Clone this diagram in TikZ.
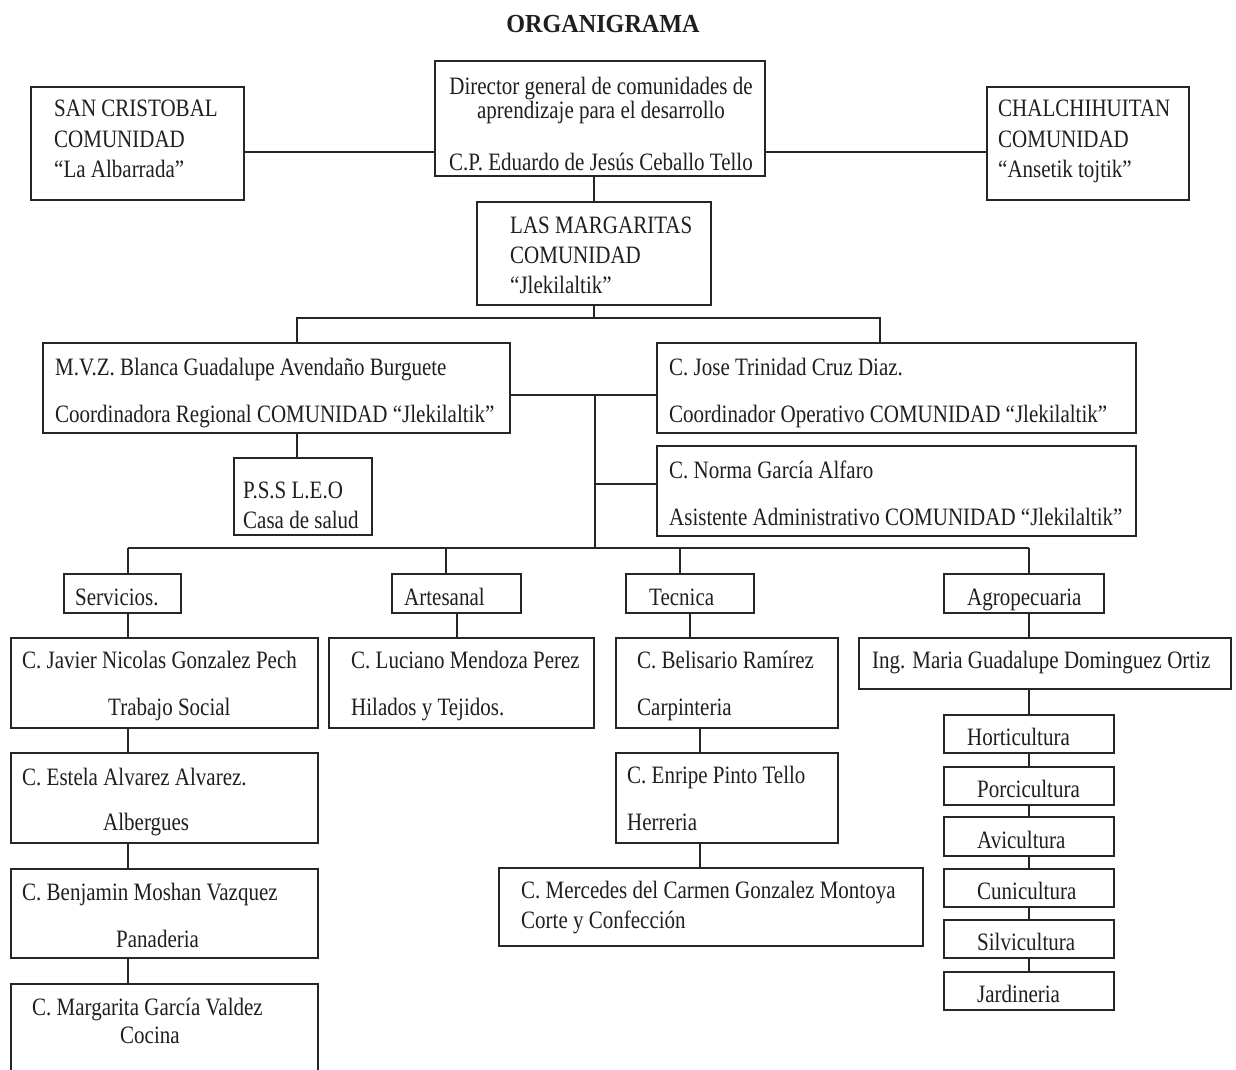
\documentclass[tikz,border=0pt]{standalone}
\usepackage{fontspec}
\setmainfont{Liberation Serif}[FakeStretch=0.84]
\newfontfamily\headfont{Liberation Serif}[FakeStretch=0.93]
\tikzset{
  orgbox/.style={draw=black!85, line width=1.4pt, inner sep=0pt},
  txt/.style={anchor=base west, inner sep=0pt, text=black!88,
    font=\fontsize{25}{30}\selectfont},
  ctxt/.style={txt, anchor=base},
  link/.style={draw=black!85, line width=1.4pt}
}
% box given by its corners (x1,y1) (x2,y2), y growing downwards
\newcommand\orgbox[5]{\node[orgbox, minimum width={(#4-#2)*1pt},
  minimum height={(#5-#3)*1pt}] (#1) at ({(#2+#4)/2},{(#3+#5)/2}) {};}
% one line of text, left end of its baseline at (x,y)
\newcommand\orgtext[4]{\node[txt] (#1) at (#2,#3) {#4};}
\begin{document}
\begin{tikzpicture}[x=1pt, y=-1pt]
\path[use as bounding box] (0,0) rectangle (1236,1070);
\clip (0,0) rectangle (1236,1070);
\fill[white] (0,0) rectangle (1236,1070);

\node[anchor=base, inner sep=0pt, text=black!88,
  font=\headfont\bfseries\fontsize{26}{30}\selectfont] (title) at (603,33) {ORGANIGRAMA};

% boxes
\orgbox{sc}{31}{87}{244}{200}
\orgbox{ch}{987}{87}{1189}{200}
\orgbox{dir}{435}{61}{765}{176}
\orgbox{mar}{477}{202}{711}{305}
\orgbox{bl}{43}{343}{510}{433}
\orgbox{jo}{657}{343}{1136}{433}
\orgbox{no}{657}{446}{1136}{536}
\orgbox{ps}{234}{458}{372}{535}
\orgbox{se}{64}{574}{181}{613}
\orgbox{ar}{392}{574}{521}{613}
\orgbox{te}{626}{574}{754}{613}
\orgbox{ag}{944}{574}{1104}{613}
\orgbox{ja}{11}{638}{318}{728}
\orgbox{lu}{329}{638}{594}{728}
\orgbox{be}{616}{638}{838}{728}
\orgbox{ing}{859}{638}{1231}{689}
\orgbox{es}{11}{753}{318}{843}
\orgbox{en}{616}{753}{838}{843}
\orgbox{bj}{11}{869}{318}{958}
\orgbox{me}{499}{868}{923}{946}
\orgbox{mg}{11}{984}{318}{1085}
\orgbox{ho}{944}{715}{1114}{753}
\orgbox{po}{944}{767}{1114}{805}
\orgbox{av}{944}{817}{1114}{856}
\orgbox{cu}{944}{869}{1114}{907}
\orgbox{si}{944}{920}{1114}{958}
\orgbox{jd}{944}{972}{1114}{1010}

% texts
\orgtext{sc1}{54}{117}{SAN CRISTOBAL}
\orgtext{sc2}{54}{147}{COMUNIDAD}
\orgtext{sc3}{54}{177}{“La Albarrada”}
\orgtext{ch1}{998}{117}{CHALCHIHUITAN}
\orgtext{ch2}{998}{147}{COMUNIDAD}
\orgtext{ch3}{998}{177}{“Ansetik tojtik”}
\node[ctxt] (dir1) at (601,95) {Director general de comunidades de};
\node[ctxt] (dir2) at (601,118) {aprendizaje para el desarrollo};
\node[ctxt] (dir3) at (601,170) {C.P. Eduardo de Jesús Ceballo Tello};
\orgtext{mar1}{510}{233}{LAS MARGARITAS}
\orgtext{mar2}{510}{263}{COMUNIDAD}
\orgtext{mar3}{510}{293}{“Jlekilaltik”}
\orgtext{bl1}{55}{375}{M.V.Z. Blanca Guadalupe Avendaño Burguete}
\orgtext{bl2}{55}{422}{Coordinadora Regional COMUNIDAD “Jlekilaltik”}
\orgtext{jo1}{669}{375}{C. Jose Trinidad Cruz Diaz.}
\orgtext{jo2}{669}{422}{Coordinador Operativo COMUNIDAD “Jlekilaltik”}
\orgtext{no1}{669}{478}{C. Norma García Alfaro}
\orgtext{no2}{669}{525}{Asistente Administrativo COMUNIDAD “Jlekilaltik”}
\orgtext{ps1}{243}{498}{P.S.S L.E.O}
\orgtext{ps2}{243}{528}{Casa de salud}
\orgtext{se1}{75}{605}{Servicios.}
\orgtext{ar1}{404}{605}{Artesanal}
\orgtext{te1}{649}{605}{Tecnica}
\orgtext{ag1}{967}{605}{Agropecuaria}
\orgtext{ja1}{22}{668}{C. Javier Nicolas Gonzalez Pech}
\orgtext{ja2}{108}{715}{Trabajo Social}
\orgtext{lu1}{351}{668}{C. Luciano Mendoza Perez}
\orgtext{lu2}{351}{715}{Hilados y Tejidos.}
\orgtext{be1}{637}{668}{C. Belisario Ramírez}
\orgtext{be2}{637}{715}{Carpinteria}
\orgtext{ing1}{872}{668}{Ing. Maria Guadalupe Dominguez Ortiz}
\orgtext{es1}{22}{785}{C. Estela Alvarez Alvarez.}
\orgtext{es2}{103}{830}{Albergues}
\orgtext{en1}{627}{783}{C. Enripe Pinto Tello}
\orgtext{en2}{627}{830}{Herreria}
\orgtext{bj1}{22}{900}{C. Benjamin Moshan Vazquez}
\orgtext{bj2}{116}{947}{Panaderia}
\orgtext{me1}{521}{898}{C. Mercedes del Carmen Gonzalez Montoya}
\orgtext{me2}{521}{928}{Corte y Confección}
\orgtext{mg1}{32}{1015}{C. Margarita García Valdez}
\orgtext{mg2}{120}{1043}{Cocina}
\orgtext{ho1}{967}{745}{Horticultura}
\orgtext{po1}{977}{797}{Porcicultura}
\orgtext{av1}{977}{848}{Avicultura}
\orgtext{cu1}{977}{899}{Cunicultura}
\orgtext{si1}{977}{950}{Silvicultura}
\orgtext{jd1}{977}{1002}{Jardineria}

% junction points of the connectors
\coordinate (ya) at (0,152);
\coordinate (jb) at (297,318);
\coordinate (jj) at (880,318);
\coordinate (jm) at (595,395);
\coordinate (jn) at (595,484);
\coordinate (jl) at (595,548);
\coordinate (ds) at (128,548);
\coordinate (da) at (446,548);
\coordinate (dt) at (680,548);
\coordinate (dg) at (1029,548);
\coordinate (ca) at (457,0);
\coordinate (ce) at (700,0);

% top level
\draw[link] (sc.east |- ya) -- (dir.west |- ya);
\draw[link] (dir.east |- ya) -- (ch.west |- ya);
\draw[link] (dir.south -| mar.north) -- (mar.north);
\draw[link] (mar.south) -- (mar.south |- jb);
\draw[link] (bl.north -| jb) -- (jb) -- (jj) -- (jo.north -| jj);
\draw[link] (bl.east |- jm) -- (jo.west |- jm);
\draw[link] (jm) -- (jl);
\draw[link] (jn) -- (no.west |- jn);
\draw[link] (bl.south -| jb) -- (ps.north -| jb);

% areas
\draw[link] (ds) -- (dg);
\draw[link] (ds) -- (se.north -| ds);
\draw[link] (da) -- (ar.north -| da);
\draw[link] (dt) -- (te.north -| dt);
\draw[link] (dg) -- (ag.north -| dg);

% Servicios
\draw[link] (se.south -| ds) -- (ja.north -| ds);
\draw[link] (ja.south -| ds) -- (es.north -| ds);
\draw[link] (es.south -| ds) -- (bj.north -| ds);
\draw[link] (bj.south -| ds) -- (mg.north -| ds);

% Artesanal
\draw[link] (ar.south -| ca) -- (lu.north -| ca);

% Tecnica
\draw[link] (te.south) -- (te.south |- be.north);
\draw[link] (be.south -| ce) -- (en.north -| ce);
\draw[link] (en.south -| ce) -- (me.north -| ce);

% Agropecuaria
\draw[link] (ag.south -| dg) -- (ing.north -| dg);
\draw[link] (ing.south -| dg) -- (ho.north -| dg);
\draw[link] (ho.south -| dg) -- (po.north -| dg);
\draw[link] (po.south -| dg) -- (av.north -| dg);
\draw[link] (av.south -| dg) -- (cu.north -| dg);
\draw[link] (cu.south -| dg) -- (si.north -| dg);
\draw[link] (si.south -| dg) -- (jd.north -| dg);
\end{tikzpicture}
\end{document}
